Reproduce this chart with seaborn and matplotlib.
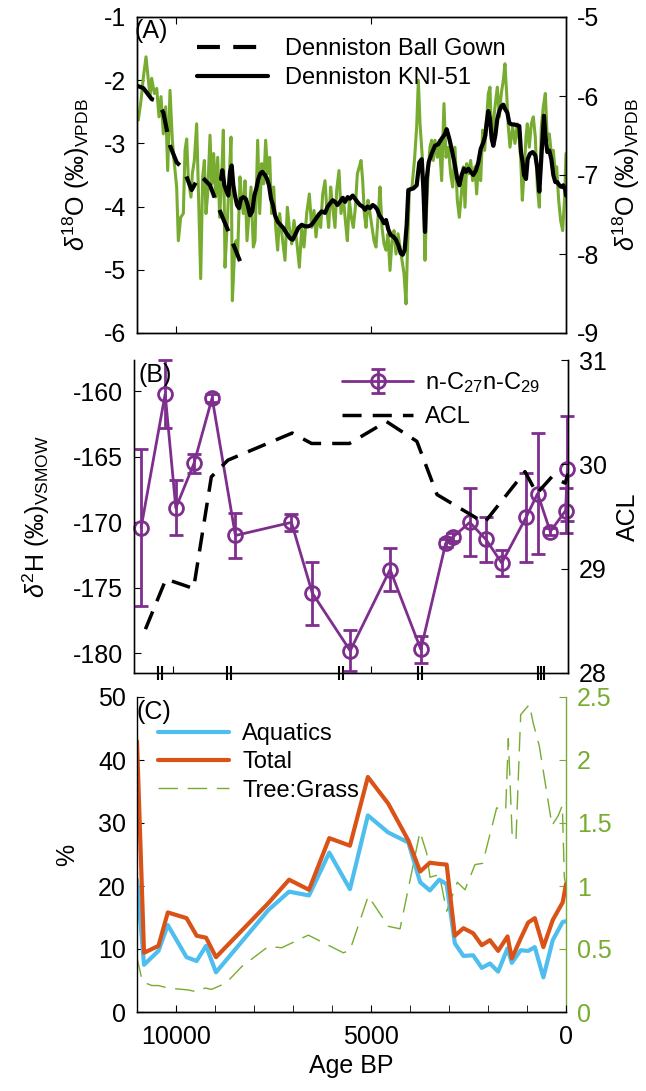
import matplotlib
matplotlib.use("Agg")
import matplotlib.pyplot as plt
from matplotlib.lines import Line2D
from matplotlib.ticker import MultipleLocator, FixedLocator
import numpy as np
import pandas as pd
import seaborn as sns

# ---------------- data ----------------
# (A) speleothem oxygen isotopes (left axis record)
green_age = [10966, 10897, 10837, 10769, 10709, 10666, 10624, 10555, 10495, 10436,
             10384, 10325, 10265, 10213, 10154, 10094, 10042, 9983, 9940, 9880,
             9812, 9769, 9726, 9683, 9615, 9581, 9530, 9470, 9410, 9367,
             9316, 9273, 9231, 9188, 9128, 9085, 9034, 8983, 8931, 8880,
             8829, 8786, 8743, 8692, 8641, 8590, 8555, 8504, 8461, 8419,
             8359, 8316, 8273, 8231, 8179, 8128, 8077, 8017, 7974, 7906,
             7854, 7803, 7752, 7701, 7649, 7598, 7547, 7495, 7444, 7393, 7342,
             7265, 7205, 7145, 7094, 7034, 6974, 6906, 6837, 6777, 6718,
             6649, 6581, 6521, 6461, 6410, 6350, 6290, 6239, 6179, 6136,
             6085, 6034, 5983, 5923, 5880, 5820, 5769, 5709, 5658, 5607,
             5555, 5504, 5453, 5401, 5350, 5299, 5256, 5213, 5171, 5128,
             5077, 5025, 4974, 4923, 4872, 4812, 4769, 4718, 4666, 4615,
             4564, 4513, 4461, 4410, 4359, 4307, 4256, 4205, 4154, 4102,
             4068, 4017, 3948, 3880, 3829, 3786, 3743,
             3676, 3616, 3573, 3530, 3488, 3445, 3402, 3359, 3300, 3248,
             3188, 3129, 3077, 3017, 2958, 2906, 2847, 2787, 2735, 2676,
             2633, 2590, 2547, 2496, 2445, 2394, 2334, 2291, 2240, 2188,
             2137, 2086, 2035, 1992, 1949, 1906, 1864, 1812, 1761, 1710,
             1659, 1607, 1565, 1522, 1479, 1436, 1368, 1308, 1248, 1197,
             1163, 1120, 1077, 1026, 992, 941, 889, 838, 787, 735,
             684, 633, 582, 530, 479, 428, 376, 325, 274, 240,
             188, 137, 86, 35, 0]
green_d18o = [-2.63, -2.32, -1.95, -1.63, -2.00, -2.26, -1.97, -2.21, -2.13, -2.58,
              -2.26, -2.85, -2.42, -3.43, -2.16, -2.95, -3.32, -3.69, -4.54, -4.17,
              -4.11, -3.11, -2.93, -3.59, -3.85, -3.48, -3.27, -2.69, -4.11, -5.14,
              -3.53, -3.27, -4.11, -3.80, -2.87, -3.64, -3.16, -3.85, -3.22, -4.17,
              -3.53, -2.79, -4.96, -4.33, -3.64, -2.90, -5.49, -4.80, -4.54, -4.75,
              -3.53, -3.90, -4.11, -3.59, -4.54, -4.11, -3.69, -4.64, -4.54, -2.95,
              -4.11, -3.32, -3.64, -2.95, -3.48, -3.22, -4.11, -3.69, -4.33, -4.69, -4.11,
              -4.54, -4.85, -4.01, -4.33, -4.59, -4.22, -4.54, -4.96, -4.33, -4.64,
              -4.11, -3.80, -4.33, -4.06, -4.48, -4.11, -4.33, -3.80, -3.59, -4.01,
              -4.33, -3.69, -4.01, -4.33, -3.74, -3.43, -4.11, -3.85, -4.22, -4.54,
              -3.90, -4.17, -4.33, -4.01, -3.48, -3.37, -3.27, -3.59, -4.11, -4.33,
              -3.90, -4.11, -4.33, -4.54, -4.64, -4.11, -3.69, -4.33, -4.59, -4.69,
              -4.43, -5.01, -4.54, -4.38, -4.75, -4.43, -4.64, -4.85, -5.06, -5.54,
              -4.75, -3.74, -3.69, -3.22, -2.74, -2.00, -2.69,
              -3.30, -4.85, -4.00, -3.40, -3.06, -2.95, -3.27, -2.95, -3.22, -2.95,
              -3.59, -2.37, -3.22, -3.06, -3.48, -3.69, -3.06, -3.90, -4.17, -3.74,
              -3.37, -4.01, -3.32, -3.48, -3.27, -3.59, -3.37, -3.80, -3.27, -3.59,
              -2.79, -3.11, -2.63, -2.21, -2.11, -2.95, -2.69, -2.37, -2.11, -2.58,
              -2.21, -2.00, -1.74, -2.21, -2.74, -3.06, -2.74, -3.00, -2.69, -2.95,
              -3.22, -3.90, -3.48, -2.90, -2.69, -3.06, -2.69, -2.58, -2.90, -3.69,
              -4.01, -2.74, -2.42, -2.21, -2.95, -2.85, -3.16, -3.11, -3.48, -3.37,
              -3.90, -4.22, -4.38, -3.85, -3.16]

# Denniston Ball Gown (right axis)
ballgown_age = [11000, 10837, 10623, 10495, 10324, 10153, 9982, 9811, 9598, 9384,
                9128, 8999, 8871, 8658, 8529, 8359]
ballgown_d18o = [-5.87, -5.90, -6.04, -6.06, -6.21, -6.63, -6.84, -6.92, -7.19, -7.00,
                 -7.13, -7.30, -7.46, -7.71, -7.88, -8.09]

# Denniston KNI-51 (right axis)
kni_age = [8846, 8812, 8760, 8701, 8658, 8615, 8572, 8530, 8487, 8436,
           8385, 8333, 8273, 8213, 8162, 8102, 8042, 7991, 7940, 7889,
           7837, 7786, 7718, 7666, 7615, 7564, 7513, 7461, 7393, 7325,
           7248, 7162, 7077, 7008, 6948, 6863, 6777, 6692, 6607, 6521,
           6436, 6350, 6265, 6179, 6111, 6051, 5983, 5923, 5863, 5795,
           5726, 5666, 5598, 5538, 5470, 5410, 5350, 5282, 5213, 5154,
           5094, 5025, 4957, 4897, 4837, 4786, 4726, 4666, 4615, 4555,
           4496, 4427, 4359, 4290, 4239, 4188, 4137, 4085, 4043, 3983,
           3914, 3829, 3761, 3701, 3658, 3615, 3572, 3521,
           3445, 3359, 3274, 3188, 3103, 3060, 2992, 2932, 2847, 2787,
           2735, 2676, 2616, 2565, 2505, 2445, 2377, 2308, 2248, 2188,
           2120, 2069, 2035, 1992, 1949, 1906, 1864, 1812, 1761, 1710,
           1659, 1607, 1556, 1505, 1453, 1394, 1334, 1265, 1197, 1154,
           1112, 1077, 1026, 983, 924, 855, 787, 735, 684, 624,
           565, 530, 479, 428, 376, 325, 274, 223, 171, 120,
           69, 18, 0]
kni_d18o = [-7.05, -6.94, -7.13, -7.21, -7.26, -6.96, -6.88, -7.13, -7.26, -7.38,
            -7.42, -7.30, -7.28, -7.30, -7.38, -7.51, -7.46, -7.26, -7.17, -7.05,
            -6.98, -6.96, -7.00, -7.05, -7.13, -7.30, -7.38, -7.51, -7.59, -7.63,
            -7.67, -7.74, -7.80, -7.82, -7.76, -7.67, -7.63, -7.65, -7.65, -7.63,
            -7.57, -7.51, -7.46, -7.48, -7.40, -7.36, -7.32, -7.34, -7.38, -7.34,
            -7.29, -7.34, -7.28, -7.30, -7.26, -7.30, -7.34, -7.38, -7.40, -7.44,
            -7.40, -7.42, -7.38, -7.40, -7.44, -7.51, -7.55, -7.61, -7.57, -7.69,
            -7.76, -7.78, -7.82, -7.90, -7.99, -8.01, -7.95, -7.63, -7.19, -7.18,
            -7.17, -7.13, -6.84, -6.80, -7.17, -7.72, -7.05, -6.84,
            -6.73, -6.63, -6.61, -6.54, -6.48, -6.42, -6.54, -6.67, -6.88, -7.05,
            -7.13, -7.00, -6.92, -6.96, -6.92, -6.96, -7.00, -6.94, -6.84, -6.67,
            -6.59, -6.50, -6.34, -6.19, -6.29, -6.54, -6.63, -6.50, -6.29, -6.19,
            -6.13, -6.11, -6.17, -6.21, -6.34, -6.36, -6.36, -6.37, -6.38, -6.71,
            -6.84, -7.00, -7.05, -6.80, -6.73, -6.71, -6.75, -6.92, -7.21, -6.71,
            -6.25, -6.50, -6.71, -6.69, -6.80, -7.00, -7.09, -7.09, -7.13, -7.15,
            -7.13, -7.19, -7.26]

# (B) leaf wax hydrogen isotopes and average chain length
wax_age = [10820, 10210, 9940, 9480, 9020, 8430, 7010, 6480, 5520, 4510,
           3730, 3100, 2910, 2490, 2080, 1680, 1060, 770, 450, 60, 15]
wax_d2h = [-170.4, -160.2, -168.9, -165.5, -160.5, -171.0, -170.0, -175.4, -179.8, -173.6,
           -179.7, -171.6, -171.1, -170.0, -171.3, -173.1, -169.6, -167.8, -170.7, -169.1, -165.9]
wax_err = [6.0, 2.6, 2.1, 0.75, 0.3, 1.75, 0.65, 2.4, 1.55, 1.65,
           1.0, 0.3, 0.3, 2.6, 1.7, 1.0, 3.4, 4.6, 0.3, 1.7, 4.0]

acl_age = [10710, 10190, 9490, 9040, 8620, 6990, 6500, 5540, 4600, 3830,
           3320, 2120, 1090, 790, 410, 70, 0]
acl_val = [28.42, 28.90, 28.81, 29.88, 30.04, 30.30, 30.20, 30.20, 30.41, 30.22,
           29.71, 29.44, 29.93, 29.72, 29.88, 29.82, 29.91]

# dated horizons marked on the age axis of (B)
date_ages = [10385, 10300, 8633, 8530, 5795, 5692, 3813, 3700, 751, 684, 615]

# (C) pollen
pollen_age = [11000, 10820, 10450, 10210, 9730, 9470, 9230, 8975, 7630, 7100,
              6590, 6070, 5540, 5080, 4560, 4040, 3740, 3490, 3250, 3060,
              2850, 2630, 2380, 2160, 1950, 1740, 1500, 1390, 1160, 970,
              800, 580, 340, 85, 0]
aquatics = [21, 7.5, 9.7, 13.8, 8.7, 8.1, 10.5, 6.3, 16.2, 19.1,
            18.5, 25.3, 19.5, 31.2, 28.5, 26.9, 20.6, 19.3, 21.0, 20.3,
            10.9, 8.9, 9.0, 7.0, 7.7, 6.4, 10.1, 7.8, 9.8, 9.7,
            10.3, 5.5, 11.4, 14.3, 14.4]
total = [43, 9.4, 10.5, 15.8, 14.9, 12.1, 11.8, 8.7, 17.3, 21.0,
         19.4, 27.6, 26.4, 37.3, 33.1, 27.2, 22.3, 23.7, 23.5, 23.4,
         12.1, 13.3, 12.5, 10.6, 11.4, 9.7, 12.0, 8.5, 11.7, 14.2,
         14.9, 10.3, 14.6, 17.4, 20.3]

tg_age = [11000, 10860, 10620, 10450, 10200, 9685, 9470, 9256, 9085, 8717,
          8316, 7633, 7290, 6607, 6222, 5710, 5540, 5070, 4726, 4556,
          4256, 3744, 3572, 3487, 3248, 3060, 2787, 2590, 2333, 2137,
          1778, 1547, 1479, 1376, 1282, 1162, 940, 838, 684, 359,
          197, 94, 43, 0]
tree_grass = [0.43, 0.24, 0.21, 0.21, 0.19, 0.175, 0.16, 0.19, 0.18, 0.23,
              0.36, 0.52, 0.51, 0.61, 0.55, 0.47, 0.49, 0.92, 0.76, 0.68,
              0.66, 1.43, 1.26, 1.07, 1.09, 0.80, 1.03, 0.97, 1.17, 1.18,
              1.62, 1.60, 2.17, 1.37, 1.37, 2.36, 2.44, 2.29, 2.11, 1.48,
              1.56, 1.64, 1.07, 1.00]

# ---------------- style ----------------
sns.set_style("ticks")
plt.rcParams["font.family"] = ["Liberation Sans", "DejaVu Sans"]
plt.rcParams["mathtext.fontset"] = "custom"
plt.rcParams["mathtext.rm"] = "Liberation Sans"
plt.rcParams["mathtext.it"] = "Liberation Sans:italic"
plt.rcParams["mathtext.bf"] = "Liberation Sans:bold"
plt.rcParams["axes.unicode_minus"] = False
plt.rcParams["axes.linewidth"] = 1.0
for key in ("text.color", "axes.labelcolor", "xtick.color", "ytick.color",
            "axes.edgecolor"):
    plt.rcParams[key] = "black"

GREEN = "#77AC30"
PURPLE = "#7E2F8E"
BLUE = "#4DBEEE"
ORANGE = "#D95319"
FS_TICK = 18
FS_LAB = 18
FS_LEG = 17
FS_PANEL = 18
DASH = (0, (5.5, 3.2))
TG_DASH = (0, (14, 7))

W, H = 646, 1091
fig = plt.figure(figsize=(W / 100, H / 100), dpi=100)


def box(l, t, r, b):
    return [l / W, 1 - b / H, (r - l) / W, (b - t) / H]


axA = fig.add_axes(box(137, 17, 566, 333))
axB = fig.add_axes(box(134, 360, 568, 673))
axC = fig.add_axes(box(137, 697, 566, 1012))


def line(ax, x, y, **kw):
    df = pd.DataFrame({"age": x, "val": y})
    sns.lineplot(data=df, x="age", y="val", ax=ax, estimator=None, sort=False,
                 legend=False, **kw)


# ---------------- (A) ----------------
line(axA, green_age, green_d18o, color=GREEN, linewidth=2.2)
axA2 = axA.twinx()
line(axA2, ballgown_age, ballgown_d18o, color="black", linewidth=3, linestyle=DASH)
line(axA2, kni_age, kni_d18o, color="black", linewidth=3)

axA.set_xlim(11000, 0)
axA.set_ylim(-6, -1)
axA2.set_ylim(-9, -5)
axA.set_xticks([10000, 5000])
axA.set_yticks(np.arange(-6, 0, 1))
axA2.set_yticks(np.arange(-9, -4, 1))
axA.tick_params(axis="x", direction="in", top=True, labelbottom=False, length=5)
axA.tick_params(axis="y", direction="in", length=5, labelsize=FS_TICK, pad=8)
axA2.tick_params(axis="y", direction="in", length=5, labelsize=FS_TICK, pad=8)
axA.set_xlabel("")
axA.set_ylabel(r"$\delta^{18}$O (‰)$_{\mathrm{VPDB}}$", fontsize=FS_LAB)
axA2.set_ylabel(r"$\delta^{18}$O (‰)$_{\mathrm{VPDB}}$", fontsize=FS_LAB)
axA.yaxis.set_label_coords(-0.105, 0.5)
axA2.yaxis.set_label_coords(1.105, 0.5)
axA.text(-0.005, 0.995, "(A)", transform=axA.transAxes, ha="left", va="top",
         fontsize=FS_PANEL)
hA = [Line2D([], [], color="black", lw=3, linestyle=DASH),
      Line2D([], [], color="black", lw=3)]
axA2.legend(hA, ["Denniston Ball Gown", "Denniston KNI-51"], loc="upper left",
            bbox_to_anchor=(0.09, 1.0), frameon=False, fontsize=FS_LEG,
            handlelength=3.0, handletextpad=0.75, labelspacing=0.3)

# ---------------- (B) ----------------
eb = axB.errorbar(wax_age, wax_d2h, yerr=wax_err, color=PURPLE, marker="o",
                  mfc="none", ms=10, mew=2, lw=2, elinewidth=2, capsize=5,
                  capthick=2, clip_on=False, zorder=3)
axB2 = axB.twinx()
line(axB2, acl_age, acl_val, color="black", linewidth=2.5, linestyle=DASH)

axB.set_xlim(11000, 0)
axB.set_ylim(-181.5, -157.6)
axB2.set_ylim(28, 31)
axB.set_yticks(np.arange(-180, -159, 5))
axB2.set_yticks([28, 29, 30, 31])
axB.xaxis.set_major_locator(FixedLocator([10000, 5000]))
axB.xaxis.set_minor_locator(FixedLocator(date_ages))
axB.tick_params(axis="x", which="major", direction="in", length=5, labelbottom=False)
axB.tick_params(axis="x", which="minor", direction="inout", length=10, width=1.5,
                color="black")
axB.tick_params(axis="y", direction="in", length=5, labelsize=FS_TICK, pad=8)
axB2.tick_params(axis="y", direction="in", length=5, labelsize=FS_TICK, pad=8)
for a in (axB, axB2):
    a.spines["top"].set_visible(False)
axB.spines["left"].set_color("#555555")
axB.spines["bottom"].set_color("#444444")
axB.set_xlabel("")
axB.set_ylabel(r"$\delta^{2}$H (‰)$_{\mathrm{VSMOW}}$", fontsize=FS_LAB)
axB2.set_ylabel("ACL", fontsize=FS_LAB)
axB.yaxis.set_label_coords(-0.19, 0.5)
axB2.yaxis.set_label_coords(1.11, 0.5)
axB.text(0.01, 0.99, "(B)", transform=axB.transAxes, ha="left", va="top",
         fontsize=FS_PANEL)
hB = [eb, Line2D([], [], color="black", lw=2.5, linestyle=DASH)]
axB.legend(hB, [r"n-C$_{27}$n-C$_{29}$", "ACL"], loc="upper right",
           bbox_to_anchor=(0.985, 1.035), frameon=False, fontsize=FS_LEG,
           handlelength=3.0, handletextpad=0.5, labelspacing=0.45)

# ---------------- (C) ----------------
axC2 = axC.twinx()
line(axC2, tg_age, tree_grass, color=GREEN, linewidth=1.0, linestyle=TG_DASH)
line(axC, pollen_age, aquatics, color=BLUE, linewidth=3)
line(axC, pollen_age, total, color=ORANGE, linewidth=3)
axC.set_zorder(axC2.get_zorder() + 1)
axC.patch.set_visible(False)

axC.set_xlim(11000, 0)
axC.set_ylim(0, 50)
axC2.set_ylim(0, 2.5)
axC.set_xticks([10000, 5000, 0])
axC.set_xticklabels(["10000", "5000", "0"])
axC.xaxis.set_minor_locator(MultipleLocator(1000))
axC.tick_params(axis="x", which="both", direction="in", length=5,
                labelsize=FS_TICK, pad=9)
axC.set_yticks(np.arange(0, 51, 10))
axC.tick_params(axis="y", direction="in", length=5, labelsize=FS_TICK, pad=8)
axC2.set_yticks([0, 0.5, 1, 1.5, 2, 2.5])
axC2.set_yticklabels(["0", "0.5", "1", "1.5", "2", "2.5"])
axC2.tick_params(axis="y", direction="in", length=5, labelsize=FS_TICK, pad=8,
                 colors=GREEN)
for a in (axC, axC2):
    a.spines["top"].set_visible(False)
axC.spines["right"].set_visible(False)
axC2.spines["left"].set_visible(False)
axC2.spines["right"].set_color(GREEN)
axC.set_xlabel("Age BP", fontsize=FS_LAB, labelpad=4)
axC.set_ylabel("%", fontsize=FS_LAB)
axC2.set_ylabel("")
axC.yaxis.set_label_coords(-0.135, 0.5)
axC.text(0.0, 0.99, "(C)", transform=axC.transAxes, ha="left", va="top",
         fontsize=FS_PANEL)
hC = [Line2D([], [], color=BLUE, lw=3), Line2D([], [], color=ORANGE, lw=3),
      Line2D([], [], color=GREEN, lw=1.0, linestyle=TG_DASH)]
axC.legend(hC, ["Aquatics", "Total", "Tree:Grass"], loc="upper left",
           bbox_to_anchor=(0.0, 0.985), frameon=False, fontsize=FS_LEG,
           handlelength=3.0, handletextpad=0.55, labelspacing=0.27)

fig.savefig("out.png", dpi=100)
